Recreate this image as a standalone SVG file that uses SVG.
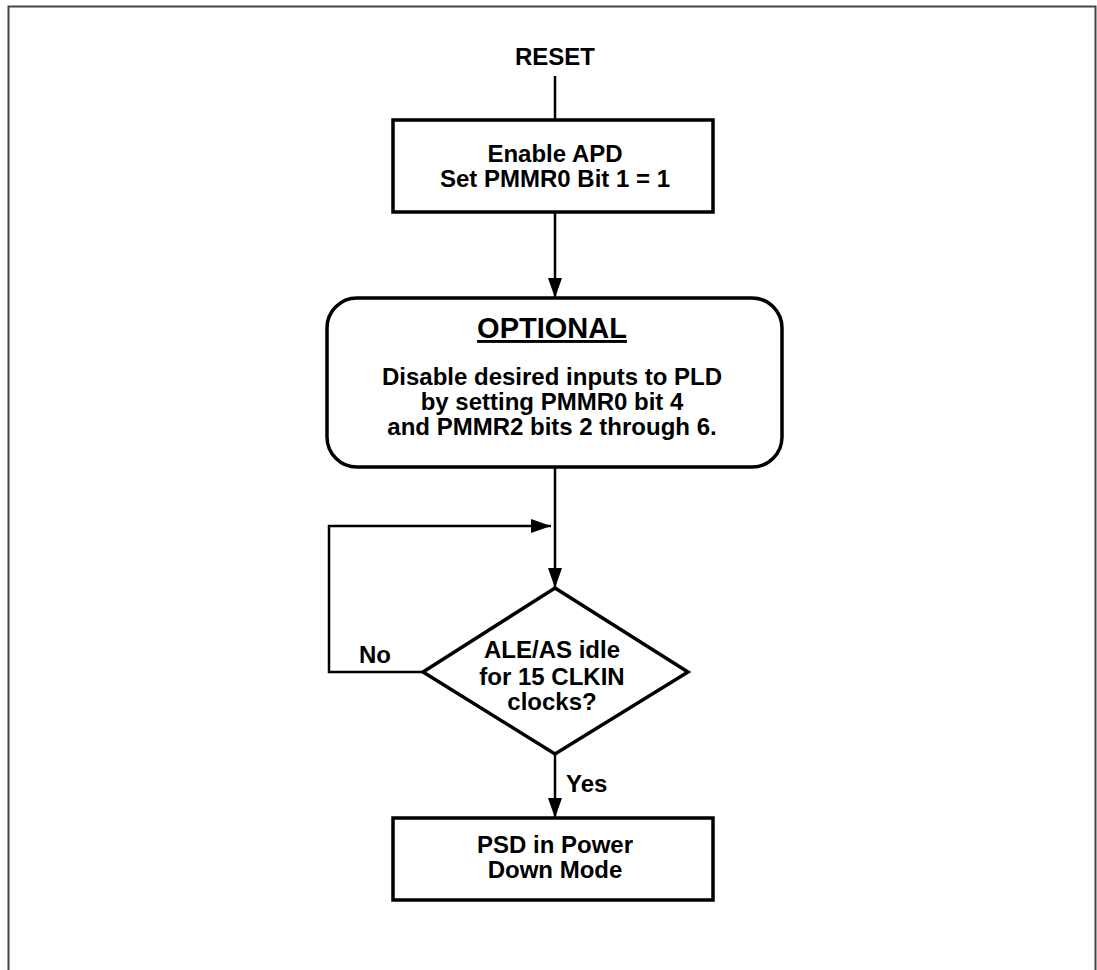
<svg xmlns="http://www.w3.org/2000/svg" width="1097" height="970" viewBox="0 0 1097 970">
<style>
text{font-family:"Liberation Sans",Arial,sans-serif;font-weight:bold;fill:#000;text-anchor:middle}
.t{font-size:24px}
.n{fill:#fff;stroke:#000;stroke-width:3.5}
.c{fill:none;stroke:#000;stroke-width:2.5}
</style>
<defs>
<marker id="ah" viewBox="0 0 20 14" refX="20" refY="7" markerWidth="20" markerHeight="14" markerUnits="userSpaceOnUse" orient="auto">
<path d="M0,0 L20,7 L0,14 Z" fill="#000"/>
</marker>
</defs>
<rect x="8.5" y="6.5" width="1087" height="970" fill="none" stroke="#444" stroke-width="2"/>
<g id="connectors">
<line class="c" x1="555" y1="76" x2="555" y2="120"/>
<line class="c" x1="555" y1="212" x2="555" y2="298" marker-end="url(#ah)"/>
<line class="c" x1="555" y1="467" x2="555" y2="588" marker-end="url(#ah)"/>
<polyline class="c" points="423,672 329,672 329,526 551,526" marker-end="url(#ah)"/>
<line class="c" x1="555" y1="754" x2="555" y2="818" marker-end="url(#ah)"/>
<text class="t" x="375" y="663">No</text>
<text class="t" x="566" y="792" style="text-anchor:start">Yes</text>
</g>
<g id="reset">
<text class="t" x="555" y="65">RESET</text>
</g>
<g id="enable">
<rect class="n" x="393" y="120" width="320" height="92"/>
<text class="t" x="555" y="162">Enable APD</text>
<text class="t" x="555" y="187">Set PMMR0 Bit 1 = 1</text>
</g>
<g id="optional">
<rect class="n" x="327" y="298" width="455" height="169" rx="30" ry="30"/>
<text x="552" y="338" style="font-size:29px;text-decoration:underline">OPTIONAL</text>
<text class="t" x="552" y="385">Disable desired inputs to PLD</text>
<text class="t" x="552" y="410">by setting PMMR0 bit 4</text>
<text class="t" x="552" y="435">and PMMR2 bits 2 through 6.</text>
</g>
<g id="decision">
<polygon class="n" points="555,588 688,672 555,754 423,672"/>
<text class="t" x="552" y="658">ALE/AS idle</text>
<text class="t" x="552" y="685">for 15 CLKIN</text>
<text class="t" x="552" y="710">clocks?</text>
</g>
<g id="powerdown">
<rect class="n" x="393" y="818" width="320" height="82"/>
<text class="t" x="555" y="853">PSD in Power</text>
<text class="t" x="555" y="878">Down Mode</text>
</g>
</svg>
